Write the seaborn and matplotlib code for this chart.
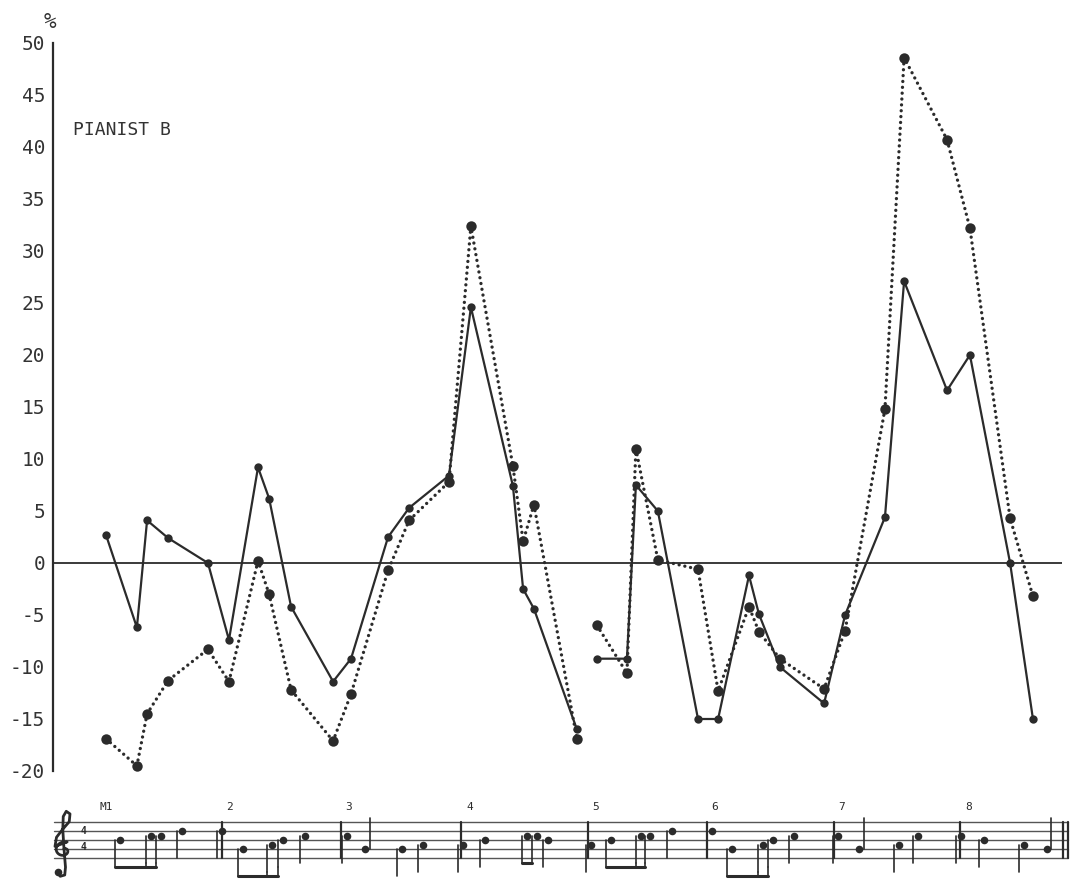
import matplotlib
matplotlib.use("Agg")
import matplotlib.pyplot as plt
import numpy as np
import pandas as pd
import seaborn as sns

# Note onsets (beats from the first note) and tempo deviation (%) for each note
onset_phrase1 = [0.00, 1.00, 1.33, 2.01, 3.30, 3.98, 4.92, 5.28, 5.99, 7.35,
                 7.93, 9.13, 9.81, 11.10, 11.81, 13.17, 13.50, 13.85, 15.24]
onset_phrase2 = [15.89, 16.86, 17.15, 17.86, 19.16, 19.81, 20.81, 21.13, 21.81,
                 23.24, 23.92, 25.21, 25.83, 27.22, 27.96, 29.26, 30.00]

solid_phrase1 = [2.7, -6.2, 4.1, 2.4, 0.0, -7.4, 9.2, 6.2, -4.2, -11.4,
                 -9.2, 2.5, 5.3, 8.4, 24.6, 7.4, -2.5, -4.4, -16.0]
solid_phrase2 = [-9.2, -9.2, 7.5, 5.0, -15.0, -15.0, -1.2, -4.9, -10.0,
                 -13.5, -5.0, 4.4, 27.1, 16.6, 20.0, 0.0, -15.0]

dotted_phrase1 = [-16.9, -19.5, -14.5, -11.3, -8.3, -11.4, 0.2, -3.0, -12.2, -17.1,
                  -12.6, -0.7, 4.1, 7.8, 32.4, 9.3, 2.1, 5.6, -16.9]
dotted_phrase2 = [-6.0, -10.6, 11.0, 0.3, -0.6, -12.3, -4.2, -6.6, -9.2,
                  -12.1, -6.5, 14.8, 48.6, 40.7, 32.2, 4.3, -3.2]

y_ticks = list(range(-20, 51, 5))
measure_labels = ["M1", "2", "3", "4", "5", "6", "7", "8"]
# pitch of each note as staff step (0 = bottom line, 8 = top line)
pitch_steps = [4, 5, 5, 6, 6, 2, 3, 4, 5, 5, 2, 2, 3, 3, 4, 5, 5, 4, 3,
               4, 5, 5, 6, 6, 2, 3, 4, 5, 5, 2, 3, 5, 5, 4, 3, 2]

# score layout (beats)
barlines = [3.75, 7.6, 11.5, 15.6, 19.45, 23.55, 27.65]
stems_up = {10, 29, 35}
beam_groups = [(0, 2), (5, 7), (15, 16), (19, 21), (24, 26)]

ink = "#2b2b2b"

rows = []
for series, phrases in (("solid", (solid_phrase1, solid_phrase2)),
                        ("dotted", (dotted_phrase1, dotted_phrase2))):
    for k, (xs, ys) in enumerate(zip((onset_phrase1, onset_phrase2), phrases)):
        for x, y in zip(xs, ys):
            rows.append({"onset": x, "change": y, "series": series, "phrase": k})
df = pd.DataFrame(rows)

sns.set_theme(style="white")
plt.rcParams["font.family"] = ["DejaVu Sans Mono", "DejaVu Sans"]

W, H = 1074, 881
fig = plt.figure(figsize=(W / 100, H / 100), dpi=100)
fig.patch.set_facecolor("white")

x_left, x_right = 53, 1062
xlim = (-1.715, 30.94)
ax = fig.add_axes([x_left / W, 1 - 771 / H, (x_right - x_left) / W, (771 - 43) / H])
ax.set_facecolor("white")

for k in (0, 1):
    d = df[(df.series == "solid") & (df.phrase == k)]
    sns.lineplot(data=d, x="onset", y="change", ax=ax, color=ink, lw=1.6,
                 marker="o", markersize=6, markeredgewidth=0, estimator=None,
                 sort=False, zorder=3)
    d = df[(df.series == "dotted") & (df.phrase == k)]
    sns.lineplot(data=d, x="onset", y="change", ax=ax, color=ink, lw=2.4,
                 linestyle=(0, (0.01, 1.75)), dash_capstyle="round",
                 marker="o", markersize=7.5, markeredgewidth=0, estimator=None,
                 sort=False, zorder=3)

ax.axhline(0, color=ink, lw=1.3, zorder=2)
ax.set_xlim(*xlim)
ax.set_ylim(-20, 50)
ax.set_yticks(y_ticks)
ax.set_yticklabels([str(t) for t in y_ticks], fontsize=14, color="#333333")
ax.set_xticks([])
ax.set_xlabel("")
ax.set_ylabel("")
for side in ("top", "right", "bottom"):
    ax.spines[side].set_visible(False)
ax.spines["left"].set_color(ink)
ax.spines["left"].set_linewidth(1.6)
ax.tick_params(axis="y", direction="inout", length=7, width=1.3, color=ink, pad=2)

fig.text(50 / W, 1 - 22 / H, "%", fontsize=15, color="#333333", ha="center", va="center")
ax.text(73 / W, 1 - 130 / H, "PIANIST B", transform=fig.transFigure,
        fontsize=13, color="#333333", ha="left", va="center")

# Score staff beneath the chart
staff_bottom_px, step_px, px_per_beat = 858, 4.5, 30.9
sax = fig.add_axes([x_left / W, 0.0, (x_right - x_left) / W, (H - 790) / H])
sax.set_xlim(*xlim)
sax.set_ylim(-(H - staff_bottom_px) / step_px, (staff_bottom_px - 790) / step_px)
sax.axis("off")
staff_x0, staff_x1 = -1.68, 31.13
for s in (0, 2, 4, 6, 8):
    sax.plot([staff_x0, staff_x1], [s, s], color="#555555", lw=1.0, clip_on=False)
for b in barlines:
    sax.plot([b, b], [0, 8], color=ink, lw=1.6, clip_on=False)
for b in (30.98, 31.13):
    sax.plot([b, b], [0, 8], color=ink, lw=1.6, clip_on=False)
starts = [-0.2] + [b + 0.15 for b in barlines]
for lab, x in zip(measure_labels, starts):
    sax.text(x, 10.3, lab, fontsize=8, color=ink, ha="left", va="bottom")

# treble clef drawn as a curve (no installed font carries the glyph)
t = np.linspace(0, 2.1 * np.pi, 90)
r = 1.2 + 6.3 * t / t[-1]
cx_px = r * np.cos(-t + np.pi / 2) * 0.9
cy_px = r * np.sin(-t + np.pi / 2) * 0.9 - 1
upper = np.array([[-6.0, 2.0], [-5.0, 9.0], [-1.0, 15.0], [3.5, 21.0], [4.0, 27.0],
                  [1.5, 29.0], [-0.5, 25.0], [-0.8, 15.0], [0.0, 0.0], [1.0, -14.0],
                  [0.5, -20.0], [-2.5, -21.0], [-4.5, -18.0]])
clef_x = np.concatenate([cx_px, upper[:, 0]]) * 1.5
clef_y = np.concatenate([cy_px, upper[:, 1]]) * 1.3
clef_cx = (64 - 106) / px_per_beat
sax.plot(clef_cx + clef_x / px_per_beat, 2 + clef_y / step_px, color=ink, lw=2.0,
         solid_capstyle="round", clip_on=False)
sax.scatter([clef_cx - 6.0 / px_per_beat], [2 - 23 / step_px], s=20, color=ink,
            clip_on=False)
sax.text(-0.72, 6.0, "4", fontsize=7, color=ink, ha="center", va="center", weight="bold")
sax.text(-0.72, 2.5, "4", fontsize=7, color=ink, ha="center", va="center", weight="bold")

all_onsets = onset_phrase1 + onset_phrase2
stem_x = {}
stem_end = {}
for i, (x, p) in enumerate(zip(all_onsets, pitch_steps)):
    xh = x + 0.45
    sax.scatter([xh], [p], s=30, marker="o", color=ink, zorder=3, linewidths=0)
    if i in stems_up:
        sax.plot([xh + 0.15, xh + 0.15], [p, p + 7], color=ink, lw=1.2)
    else:
        sax.plot([xh - 0.15, xh - 0.15], [p, p - 6.0], color=ink, lw=1.2)
        stem_x[i] = xh - 0.15
        stem_end[i] = p - 6.0
for a, b in beam_groups:
    low = min(stem_end[j] for j in range(a, b + 1))
    for j in range(a, b + 1):
        sax.plot([stem_x[j], stem_x[j]], [stem_end[j], low], color=ink, lw=1.2)
    sax.plot([stem_x[a], stem_x[b]], [low, low], color=ink, lw=2.2)

fig.savefig("out.png", dpi=100, facecolor="white")
